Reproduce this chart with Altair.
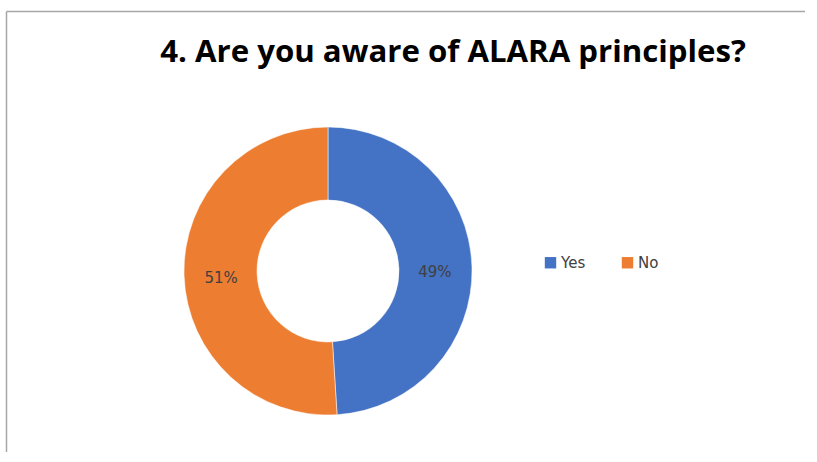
import altair as alt
import pandas as pd

categories = ["Yes", "No"]
values = [49, 51]
colors = ["#4472C4", "#ED7D31"]
title_text = ["4. Are you aware of ALARA principles?"]

df = pd.DataFrame({
    "answer": categories,
    "value": values,
    "order": list(range(len(categories))),
    "label": [f"{v}%" for v in values],
})

CX, CY = 328, 271

base = alt.Chart(df).encode(
    theta=alt.Theta("value:Q", stack=True),
    order=alt.Order("order:Q"),
)

arcs = base.mark_arc(radius=144, radius2=71, stroke="white", strokeWidth=0.5).encode(
    color=alt.Color(
        "answer:N",
        scale=alt.Scale(domain=categories, range=colors),
        sort=categories,
        legend=alt.Legend(
            title=None,
            orient="none",
            legendX=543,
            legendY=255,
            direction="horizontal",
            symbolType="square",
            symbolSize=130,
            symbolStrokeWidth=0,
            labelFontSize=15,
            labelFont="DejaVu Sans",
            labelColor="#404040",
            columnPadding=34,
            labelOffset=3,
        ),
    ),
    x=alt.value(CX),
    y=alt.value(CY),
)

labels = base.mark_text(radius=107, dy=4, font="DejaVu Sans", fontSize=15, color="#404040").encode(
    text="label:N",
    detail="answer:N",
    x=alt.value(CX),
    y=alt.value(CY),
)

title = alt.Chart(pd.DataFrame({"t": title_text})).mark_text(
    font="Open Sans", fontWeight="bold", fontSize=31.2, color="#000000", align="center", baseline="alphabetic"
).encode(text="t:N", x=alt.value(453), y=alt.value(62))

border_top = alt.Chart(pd.DataFrame({"a": [0]})).mark_rule(color="#a6a6a6", strokeWidth=1.5).encode(
    x=alt.value(6.5), x2=alt.value(830), y=alt.value(11.5)
)
border_left = alt.Chart(pd.DataFrame({"a": [0]})).mark_rule(color="#a6a6a6", strokeWidth=1.5).encode(
    x=alt.value(6.5), y=alt.value(11.5), y2=alt.value(470)
)

chart = alt.layer(border_top, border_left, arcs, labels, title).properties(
    width=805, height=452, padding=0, autosize=alt.AutoSizeParams(type="none"),
    background="white",
).configure_view(stroke=None)

chart.save("out.html", embed_options={"renderer": "svg", "actions": False})
